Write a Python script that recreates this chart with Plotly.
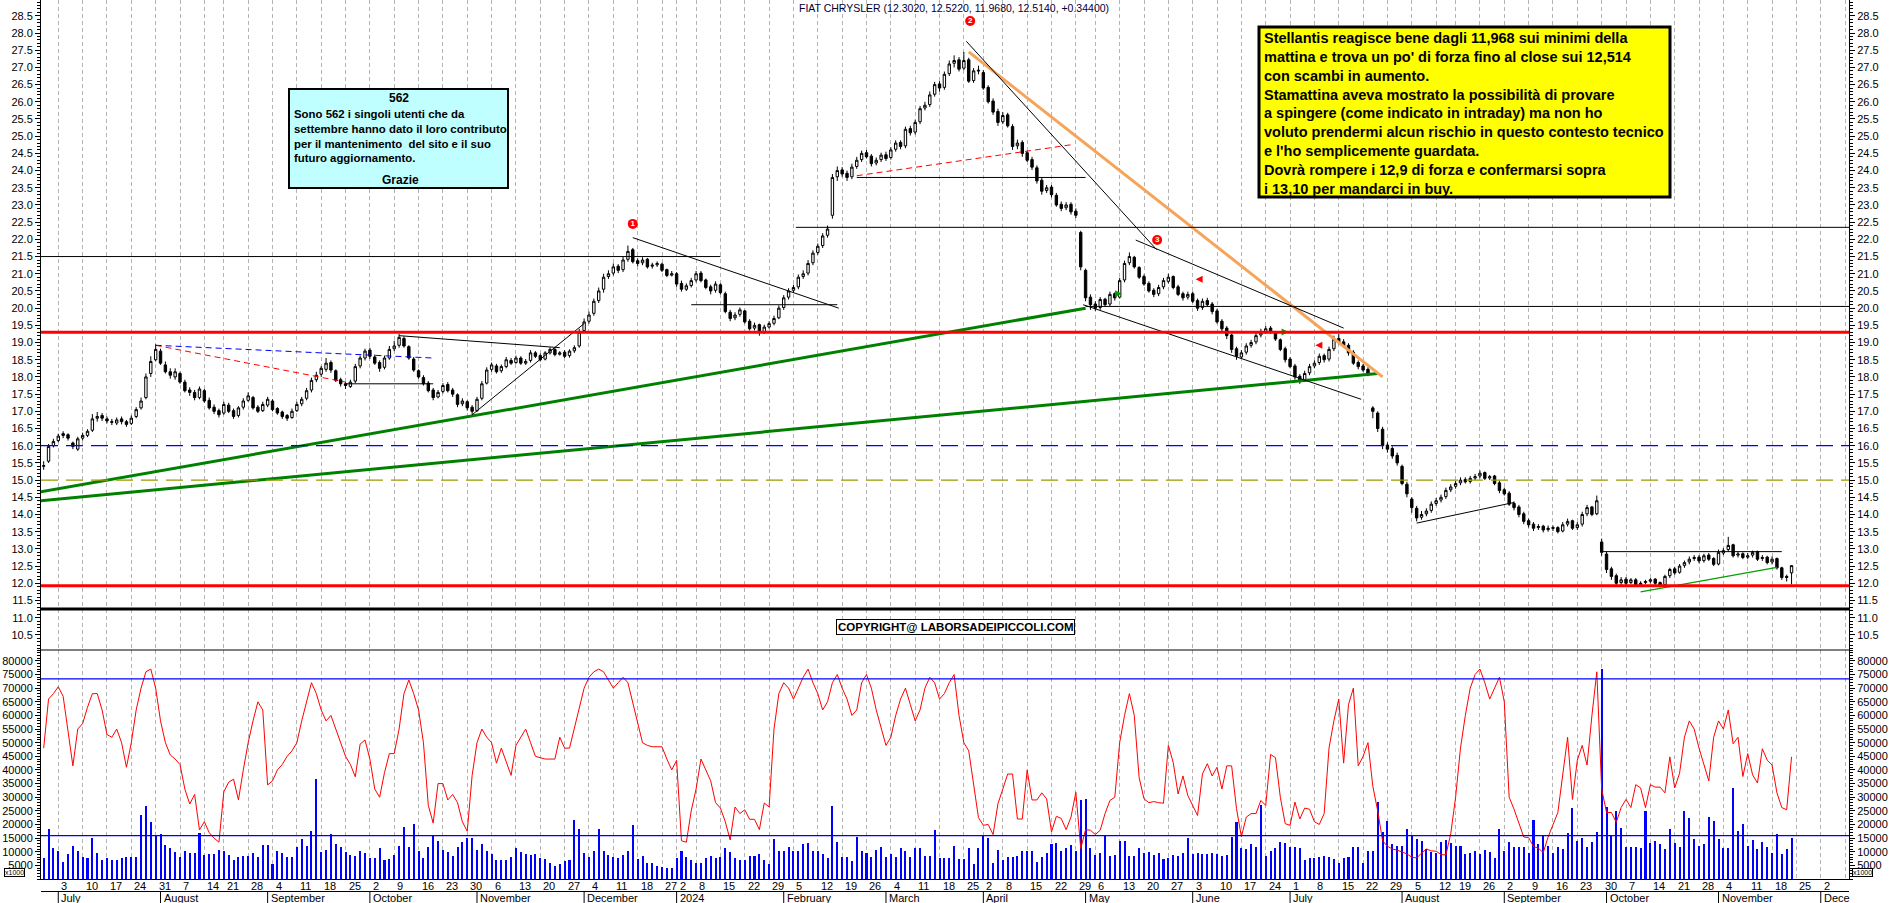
import plotly.graph_objects as go
import pandas as pd

# ---------------- DATA ----------------
HOLIDAYS = ["2023-08-15", "2023-12-25", "2023-12-26", "2024-01-01",
            "2024-03-29", "2024-04-01", "2024-05-01", "2024-08-15",
            "2024-12-24", "2024-12-25", "2024-12-26"]

OPEN = [15.40, 15.55, 16.00,
 16.15, 16.35, 16.32, 16.08, 15.90,  16.22, 16.30, 16.45, 16.80, 16.88,  16.78, 16.70, 16.66, 16.78, 16.70,
 16.65, 16.85, 17.10, 17.40, 18.10,  18.50, 18.75, 18.35, 18.15, 18.00,  18.10, 17.85, 17.62, 17.55, 17.40,
 17.60, 17.32, 17.12, 17.02,  16.95, 17.18, 17.02, 16.88, 17.12,  17.32, 17.40, 17.12, 17.02, 17.18,
 17.30, 17.08, 16.98, 16.88, 16.82,  17.02, 17.22, 17.38, 17.62, 17.92,  18.08, 18.22, 18.42, 18.18, 17.92,
 17.80, 17.72, 17.88, 18.32, 18.55,  18.78, 18.58, 18.42, 18.28, 18.55,  18.82, 18.92, 19.12, 18.88, 18.52,
 18.18, 17.98, 17.82, 17.62, 17.42,  17.58, 17.78, 17.62, 17.48, 17.22,  17.28, 17.12, 17.02, 17.38, 17.82,
 18.22, 18.32, 18.18, 18.30, 18.48,  18.42, 18.55, 18.40, 18.48, 18.70,  18.62, 18.52, 18.70, 18.80, 18.66,
 18.72, 18.62, 18.76, 18.90, 19.35,  19.62, 19.85, 20.22, 20.55, 20.92,  21.02, 21.22, 21.12, 21.42, 21.70,
 21.38, 21.32, 21.42, 21.22, 21.26,  21.28, 21.12, 20.96,  21.00, 20.72, 20.55, 20.66,
 20.82, 21.02, 20.82, 20.62, 20.52,  20.68, 20.42, 19.88, 19.72, 19.82,  19.92, 19.62, 19.42, 19.52, 19.32,
 19.45, 19.56, 19.72, 20.02, 20.32,  20.52, 20.62, 20.92, 21.02, 21.32,  21.62, 21.82, 22.12, 22.70, 23.82,
 24.02, 23.92, 23.82, 24.12, 24.32,  24.52, 24.42, 24.22, 24.32, 24.46,  24.38, 24.62, 24.82, 24.72, 25.22,
 25.12, 25.42, 25.82, 25.92, 26.22,  26.52, 26.42, 26.82, 27.12, 27.22,  26.98, 27.22, 26.62, 26.92,
 26.85, 26.42, 26.02, 25.72,  25.42, 25.62, 25.28, 24.72, 24.82,  24.52, 24.32, 24.08, 23.72, 23.42,
 23.52, 23.28, 23.02, 22.92, 23.02,  22.82, 22.20, 21.10, 20.32,  20.12, 20.02, 20.26, 20.12, 20.42,
 20.32, 20.82, 21.32, 21.48, 21.18,  20.92, 20.72, 20.52, 20.42, 20.62,  20.78, 20.92, 20.62, 20.42, 20.32,
 20.42, 20.22, 20.02, 20.22, 20.12,  19.92, 19.62, 19.42, 19.22, 18.82,  18.58, 18.72, 18.92, 19.02, 19.22,
 19.32, 19.42, 19.28, 19.08, 18.82,  18.52, 18.32, 18.02, 17.92, 18.12,  18.32, 18.42, 18.62, 18.52, 18.82,
 19.12, 19.02, 18.92, 18.72, 18.42,  18.32, 18.22, 17.10, 16.95, 16.48,  16.02, 15.92, 15.72, 15.40, 14.88,
 14.45, 14.18, 13.92, 14.02, 14.12,  14.32, 14.42, 14.52, 14.72,  14.82, 14.92, 15.02, 14.96, 15.06,
 15.12, 15.22, 15.06, 15.12, 14.92,  14.72, 14.62, 14.32, 14.22, 14.02,  13.82, 13.72, 13.62, 13.66, 13.56,
 13.62, 13.62, 13.52, 13.72, 13.82,  13.62, 13.72, 14.02, 14.22, 14.02,  13.20, 12.85, 12.42, 12.22, 12.02,
 12.12, 12.02, 12.10, 11.96, 12.02,  12.06, 12.12, 12.02, 11.96, 12.22,  12.42, 12.32, 12.52, 12.62, 12.72,
 12.76, 12.66, 12.82, 12.72, 12.56,  12.88, 12.98, 13.12, 12.82, 12.86,  12.76, 12.82, 12.92, 12.72, 12.76,
 12.62, 12.72, 12.45, 12.20, 12.302]

HIGH = [15.55, 16.05, 16.20,
 16.35, 16.42, 16.36, 16.12, 16.26,  16.38, 16.48, 16.92, 16.98, 16.95,  16.85, 16.78, 16.82, 16.85, 16.75,
 16.88, 17.12, 17.40, 18.10, 18.60,  18.95, 18.82, 18.45, 18.25, 18.25,  18.15, 17.92, 17.70, 17.62, 17.72,
 17.65, 17.40, 17.20, 17.08,  17.28, 17.25, 17.08, 17.15, 17.38,  17.55, 17.45, 17.18, 17.28, 17.42,
 17.35, 17.12, 17.02, 16.92, 17.08,  17.28, 17.42, 17.68, 17.98, 18.15,  18.32, 18.55, 18.48, 18.22, 17.98,
 17.85, 17.92, 18.38, 18.62, 18.82,  18.85, 18.65, 18.48, 18.62, 18.90,  19.05, 19.25, 19.18, 18.92, 18.58,
 18.22, 18.05, 17.88, 17.68, 17.62,  17.82, 17.85, 17.68, 17.52, 17.38,  17.32, 17.18, 17.42, 17.88, 18.28,
 18.42, 18.38, 18.36, 18.58, 18.55,  18.62, 18.60, 18.52, 18.78, 18.75,  18.68, 18.75, 18.86, 18.84, 18.75,
 18.78, 18.80, 18.92, 19.40, 19.70,  19.90, 20.28, 20.60, 21.00, 21.10,  21.30, 21.28, 21.50, 21.82, 21.75,
 21.45, 21.48, 21.46, 21.32, 21.36,  21.32, 21.15, 21.08,  21.05, 20.80, 20.72, 20.88,
 21.08, 21.08, 20.86, 20.68, 20.78,  20.72, 20.48, 19.95, 19.88, 20.02,  19.95, 19.68, 19.58, 19.55, 19.52,
 19.62, 19.78, 20.08, 20.38, 20.58,  20.68, 20.98, 21.10, 21.40, 21.68,  21.88, 22.18, 22.40, 23.90, 24.12,
 24.10, 24.00, 24.20, 24.40, 24.58,  24.60, 24.48, 24.38, 24.52, 24.55,  24.68, 24.88, 24.88, 25.28, 25.30,
 25.48, 25.88, 26.00, 26.30, 26.58,  26.60, 26.88, 27.20, 27.35, 27.30,  27.45, 27.28, 26.98, 27.05,
 26.92, 26.48, 26.10, 25.80,  25.70, 25.68, 25.35, 24.90, 24.88,  24.58, 24.40, 24.15, 23.80, 23.58,
 23.58, 23.35, 23.10, 23.08, 23.08,  22.90, 22.25, 21.15, 20.40,  20.20, 20.32, 20.30, 20.48, 20.46,
 20.88, 21.38, 21.62, 21.52, 21.22,  20.98, 20.78, 20.58, 20.68, 20.88,  21.00, 20.95, 20.68, 20.48, 20.48,
 20.48, 20.28, 20.28, 20.30, 20.18,  19.98, 19.68, 19.48, 19.25, 18.88,  18.78, 18.98, 19.08, 19.28, 19.40,
 19.48, 19.48, 19.32, 19.12, 18.88,  18.58, 18.38, 18.08, 18.18, 18.38,  18.48, 18.68, 18.68, 18.88, 19.20,
 19.25, 19.10, 18.98, 18.78, 18.48,  18.38, 18.28, 17.15, 17.00, 16.55,  16.10, 15.98, 15.80, 15.45, 14.95,
 14.50, 14.25, 14.10, 14.18, 14.38,  14.48, 14.58, 14.78, 14.88,  14.98, 15.08, 15.08, 15.12, 15.18,
 15.28, 15.25, 15.15, 15.15, 14.98,  14.78, 14.68, 14.38, 14.28, 14.08,  13.88, 13.78, 13.72, 13.70, 13.68,
 13.68, 13.66, 13.78, 13.88, 13.85,  13.78, 14.08, 14.28, 14.25, 14.55,  13.30, 12.92, 12.48, 12.28, 12.18,
 12.18, 12.15, 12.15, 12.06, 12.10,  12.15, 12.15, 12.05, 12.25, 12.45,  12.48, 12.56, 12.66, 12.78, 12.82,
 12.82, 12.86, 12.88, 12.76, 12.98,  13.02, 13.35, 13.15, 12.92, 12.90,  12.88, 12.95, 12.95, 12.82, 12.80,
 12.78, 12.75, 12.48, 12.25, 12.522]

LOW = [15.30, 15.50, 15.95,
 16.10, 16.22, 16.15, 15.90, 15.85,  16.15, 16.25, 16.40, 16.70, 16.72,  16.65, 16.60, 16.60, 16.62, 16.55,
 16.60, 16.80, 17.05, 17.35, 18.00,  18.45, 18.35, 18.10, 17.95, 17.92,  17.80, 17.55, 17.45, 17.32, 17.35,
 17.25, 17.05, 16.92, 16.82,  16.90, 16.95, 16.78, 16.82, 17.05,  17.28, 17.05, 16.95, 16.98, 17.12,
 17.00, 16.90, 16.78, 16.72, 16.78,  16.98, 17.15, 17.32, 17.55, 17.85,  18.00, 18.15, 18.12, 17.85, 17.72,
 17.65, 17.68, 17.82, 18.25, 18.48,  18.52, 18.35, 18.15, 18.22, 18.50,  18.75, 18.85, 18.85, 18.50, 18.15,
 17.95, 17.75, 17.55, 17.32, 17.38,  17.52, 17.55, 17.42, 17.12, 17.15,  17.02, 16.90, 16.98, 17.32, 17.78,
 18.15, 18.10, 18.12, 18.25, 18.35,  18.38, 18.35, 18.35, 18.42, 18.55,  18.45, 18.48, 18.65, 18.60, 18.62,
 18.55, 18.56, 18.70, 18.85, 19.30,  19.55, 19.78, 20.15, 20.45, 20.85,  20.95, 21.02, 21.05, 21.35, 21.30,
 21.22, 21.25, 21.15, 21.15, 21.20,  21.05, 20.90, 20.92,  20.62, 20.48, 20.50, 20.60,
 20.75, 20.75, 20.55, 20.40, 20.45,  20.40, 19.85, 19.62, 19.65, 19.75,  19.55, 19.35, 19.35, 19.20, 19.25,
 19.40, 19.50, 19.68, 19.95, 20.25,  20.45, 20.55, 20.85, 20.95, 21.25,  21.55, 21.75, 22.05, 22.60, 23.70,
 23.82, 23.70, 23.75, 24.05, 24.25,  24.35, 24.12, 24.15, 24.25, 24.28,  24.32, 24.55, 24.62, 24.65, 25.02,
 25.05, 25.35, 25.75, 25.85, 26.15,  26.30, 26.35, 26.75, 27.00, 26.88,  26.92, 26.55, 26.55, 26.80,
 26.35, 25.95, 25.62, 25.30,  25.35, 25.25, 24.60, 24.62, 24.40,  24.25, 24.02, 23.62, 23.30, 23.35,
 23.22, 22.95, 22.82, 22.85, 22.72,  22.62, 21.10, 20.20, 19.95,  19.92, 19.95, 20.05, 20.05, 20.22,
 20.28, 20.75, 21.25, 21.15, 20.85,  20.65, 20.45, 20.32, 20.35, 20.55,  20.72, 20.55, 20.35, 20.22, 20.25,
 20.15, 19.92, 19.95, 20.05, 19.82,  19.55, 19.32, 19.10, 18.70, 18.50,  18.52, 18.65, 18.85, 18.95, 19.15,
 19.25, 19.25, 19.05, 18.75, 18.42,  18.25, 17.92, 17.80, 17.85, 18.05,  18.25, 18.35, 18.42, 18.45, 18.75,
 18.95, 18.85, 18.62, 18.35, 18.22,  18.15, 18.02, 16.80, 16.40, 15.90,  15.80, 15.62, 15.42, 14.85, 14.50,
 14.05, 13.80, 13.85, 13.95, 14.05,  14.25, 14.35, 14.45, 14.65,  14.75, 14.85, 14.90, 14.90, 15.00,
 15.05, 15.00, 15.00, 14.85, 14.62,  14.55, 14.25, 14.12, 13.92, 13.72,  13.62, 13.52, 13.55, 13.48, 13.50,
 13.52, 13.45, 13.48, 13.65, 13.55,  13.55, 13.65, 13.95, 13.95, 13.98,  12.80, 12.30, 12.10, 11.92, 11.95,
 11.95, 11.98, 11.90, 11.90, 11.98,  12.00, 11.95, 11.88, 11.92, 12.15,  12.25, 12.28, 12.45, 12.55, 12.65,
 12.58, 12.60, 12.65, 12.50, 12.52,  12.82, 12.92, 12.75, 12.75, 12.70,  12.70, 12.75, 12.65, 12.65, 12.55,
 12.55, 12.40, 12.10, 12.05, 11.968]

CLOSE = [15.42, 15.98, 16.12,
 16.28, 16.30, 16.22, 15.98, 16.20,  16.30, 16.42, 16.78, 16.85, 16.80,  16.72, 16.68, 16.75, 16.70, 16.62,
 16.80, 17.05, 17.30, 18.00, 18.45,  18.80, 18.40, 18.15, 18.05, 18.15,  17.85, 17.60, 17.55, 17.40, 17.65,
 17.30, 17.10, 17.00, 16.90,  17.20, 17.00, 16.85, 17.10, 17.30,  17.45, 17.10, 17.00, 17.20, 17.35,
 17.05, 16.95, 16.85, 16.80, 17.00,  17.20, 17.35, 17.60, 17.90, 18.05,  18.25, 18.40, 18.20, 17.90, 17.80,
 17.75, 17.85, 18.30, 18.55, 18.75,  18.60, 18.40, 18.25, 18.55, 18.80,  18.90, 19.15, 18.90, 18.55, 18.20,
 18.00, 17.80, 17.60, 17.40, 17.55,  17.75, 17.60, 17.50, 17.20, 17.30,  17.10, 17.00, 17.35, 17.80, 18.20,
 18.35, 18.15, 18.30, 18.50, 18.40,  18.55, 18.40, 18.45, 18.70, 18.60,  18.50, 18.70, 18.80, 18.65, 18.70,
 18.60, 18.75, 18.85, 19.30, 19.60,  19.80, 20.20, 20.50, 20.90, 21.00,  21.20, 21.10, 21.40, 21.65, 21.35,
 21.30, 21.40, 21.20, 21.25, 21.30,  21.10, 20.95, 21.00,  20.70, 20.55, 20.65, 20.80,
 21.00, 20.80, 20.60, 20.50, 20.70,  20.45, 19.90, 19.70, 19.80, 19.95,  19.60, 19.40, 19.50, 19.30, 19.45,
 19.55, 19.70, 20.00, 20.30, 20.50,  20.60, 20.90, 21.00, 21.30, 21.60,  21.80, 22.10, 22.30, 23.80, 24.00,
 23.90, 23.80, 24.10, 24.30, 24.50,  24.40, 24.20, 24.30, 24.45, 24.35,  24.60, 24.80, 24.70, 25.20, 25.10,
 25.40, 25.80, 25.90, 26.20, 26.50,  26.40, 26.80, 27.10, 27.20, 26.95,  27.20, 26.60, 26.90, 26.90,
 26.40, 26.00, 25.70, 25.40,  25.60, 25.30, 24.70, 24.80, 24.50,  24.30, 24.10, 23.70, 23.40, 23.50,
 23.30, 23.00, 22.90, 23.00, 22.80,  22.70, 21.20, 20.30, 20.10,  20.00, 20.25, 20.10, 20.40, 20.30,
 20.80, 21.30, 21.50, 21.20, 20.90,  20.70, 20.50, 20.40, 20.60, 20.80,  20.90, 20.60, 20.40, 20.30, 20.40,
 20.20, 20.00, 20.20, 20.10, 19.90,  19.60, 19.40, 19.20, 18.80, 18.60,  18.70, 18.90, 19.00, 19.20, 19.30,
 19.40, 19.30, 19.10, 18.80, 18.50,  18.30, 18.00, 17.90, 18.10, 18.30,  18.40, 18.60, 18.50, 18.80, 19.10,
 19.00, 18.90, 18.70, 18.40, 18.30,  18.20, 18.10, 17.00, 16.50, 16.00,  15.90, 15.70, 15.50, 14.90, 14.60,
 14.20, 13.90, 14.00, 14.10, 14.30,  14.40, 14.50, 14.70, 14.80,  14.90, 15.00, 14.95, 15.05, 15.10,
 15.20, 15.05, 15.10, 14.90, 14.70,  14.60, 14.30, 14.20, 14.00, 13.80,  13.70, 13.60, 13.65, 13.55, 13.60,
 13.60, 13.50, 13.70, 13.80, 13.60,  13.70, 14.00, 14.20, 14.00, 14.40,  12.90, 12.40, 12.20, 12.00, 12.10,
 12.00, 12.10, 11.95, 12.00, 12.05,  12.10, 12.00, 11.95, 12.20, 12.40,  12.30, 12.50, 12.60, 12.70, 12.75,
 12.65, 12.80, 12.70, 12.55, 12.90,  12.95, 13.10, 12.80, 12.85, 12.75,  12.80, 12.90, 12.70, 12.75, 12.60,
 12.70, 12.45, 12.17, 12.17, 12.514]

# volume, thousands of shares (axis labels are x1000)
VOLUME_K = [7.6, 18.2, 11.4,
 10.4, 6.4, 9.2, 12.2, 10.4,  8.2, 7.6, 15.1, 9.4, 7.0,  7.6, 6.8, 6.8, 7.6, 8.2,
 8.2, 8.0, 23.4, 26.7, 20.8,  16.3, 16.4, 12.5, 11.4, 10.0,  8.2, 10.1, 9.4, 9.4, 16.8,
 8.8, 9.2, 9.0, 10.8,  10.1, 8.9, 7.0, 8.2, 8.4,  8.6, 9.4, 8.2, 12.5, 12.5,
 5.5, 10.1, 9.7, 8.2, 8.2,  11.8, 14.6, 12.2, 17.5, 36.6,  10.0, 10.8, 16.4, 12.8, 11.8,
 9.8, 8.9, 8.6, 10.4, 9.4,  7.8, 7.6, 11.5, 6.8, 7.4,  8.8, 12.2, 19.2, 11.9, 20.2,
 10.1, 7.7, 11.6, 16.0, 13.8,  10.8, 9.8, 8.3, 11.9, 13.6,  15.2, 15.0, 10.8, 12.8, 10.4,
 9.0, 6.8, 6.8, 6.8, 8.2,  11.4, 10.0, 9.2, 8.8, 9.0,  7.8, 7.2, 6.0, 4.8, 5.4,
 6.6, 6.8, 21.8, 18.2, 9.6,  8.0, 10.1, 18.2, 10.1, 8.9,  8.2, 7.7, 8.9, 10.2, 19.9,
 7.2, 8.6, 5.8, 5.8, 4.7,  4.3, 4.1, 4.0,  7.6, 10.4, 8.0, 7.1,
 6.0, 5.8, 7.6, 8.3, 7.6,  8.0, 11.2, 9.8, 7.6, 7.0,  6.8, 8.6, 8.6, 9.0, 7.0,
 5.4, 14.6, 10.1, 10.1, 11.8,  10.1, 10.1, 13.0, 13.2, 10.2,  10.2, 9.0, 7.6, 26.7, 13.7,
 8.0, 8.0, 6.6, 15.4, 10.4,  9.4, 8.2, 10.8, 11.8, 7.9,  9.0, 8.2, 11.3, 10.1, 7.9,
 11.5, 11.5, 8.6, 8.6, 18.0,  7.7, 7.7, 7.7, 12.2, 7.2,  7.4, 11.5, 5.4, 11.4,
 16.0, 14.9, 5.8, 10.8,  7.0, 8.2, 8.2, 8.4, 10.1,  10.1, 10.2, 6.4, 8.0, 9.6,
 12.8, 13.2, 10.1, 11.3, 12.6,  10.1, 28.8, 29.4, 11.4,  8.9, 9.4, 16.0, 8.5, 8.9,
 14.0, 13.8, 8.6, 8.6, 11.5,  9.6, 9.8, 8.9, 9.6, 7.4,  7.8, 8.9, 8.4, 9.6, 15.0,
 9.2, 9.6, 9.2, 9.0, 9.4,  9.0, 8.6, 8.9, 15.4, 21.0,  11.2, 11.0, 12.9, 11.8, 27.2,
 8.6, 10.4, 11.4, 13.7, 13.2,  11.6, 11.6, 11.5, 7.0, 7.8,  7.8, 8.2, 8.6, 8.0, 7.2,
 5.8, 7.7, 8.2, 11.6, 11.8,  5.8, 10.3, 10.3, 28.4, 17.4,  21.4, 12.9, 12.2, 12.0, 18.2,
 15.8, 14.6, 13.8, 11.0, 9.8,  9.4, 13.6, 14.2, 13.2,  12.2, 12.0, 9.0, 9.4, 10.2,
 9.0, 10.6, 9.8, 7.8, 18.2,  10.2, 13.4, 11.6, 11.6, 11.6,  9.6, 21.5, 13.0, 16.0, 12.1,
 9.6, 11.8, 11.0, 16.8, 26.0,  13.8, 15.2, 11.8, 13.7, 17.2,  77.0, 26.5, 16.0, 25.0, 18.6,
 11.8, 11.8, 11.8, 11.3, 25.0,  13.1, 13.9, 12.8, 11.1, 18.2,  13.1, 11.6, 24.8, 22.5, 14.6,
 12.1, 12.8, 22.9, 21.4, 14.8,  11.3, 11.3, 33.2, 17.5, 20.0,  12.0, 14.3, 11.0, 13.4, 11.6,
 9.7, 16.6, 9.0, 11.0, 15.1]

# red oscillator line (same x1000 scale)
RED_K = [48, 66, 68,
 70.5, 67, 55, 41.5, 55,  57, 63, 68, 68, 62,  53, 52, 55, 50, 41,
 50, 62, 70, 76, 77,  70, 58, 50, 45.5, 44,  42, 33, 27.5, 31, 18,
 21, 17, 15, 13.5,  32, 35.5, 36.6, 29, 40,  50, 58, 65, 62, 34.5,
 36, 40, 42, 45, 47,  50, 58, 65, 72, 68,  62, 58, 60, 55, 50,
 45, 42, 37.5, 49.5, 51,  44, 33, 30, 39, 46,  46, 55, 68, 73, 68,
 62, 50, 27, 20.5, 35,  35, 29, 31, 28, 21,  17.5, 38, 50, 55, 52,
 50, 42.5, 48, 43, 38,  49, 52, 55, 50, 45,  44.5, 44, 44, 44, 52,
 48, 48, 55, 62, 70,  74, 76, 77, 76, 73,  70, 72, 74, 72, 65,
 58, 50, 49, 48.5, 48.5,  48.5, 44, 40,  43.5, 14, 13.5, 25,
 33, 44, 40, 36, 28,  26, 21, 14.3, 26.4, 24,  25.4, 21.9, 21.9, 18.1, 27.9,
 26.4, 55, 68, 72, 70,  66, 70, 74, 77, 72,  68, 62, 65, 72, 75,
 70, 66, 60, 62, 72,  75, 70, 62, 55, 49,  52, 60, 66, 70, 64,
 58, 62, 70, 74, 72,  66, 68, 72, 75, 60,  50, 47, 35, 22.5,
 19.7, 20, 16.3, 27.6,  33, 38.5, 38.5, 22, 22,  40, 29, 29, 31.6, 29.4,
 17.3, 23, 22.2, 18.1, 22.7,  31.8, 11.2, 18.1, 17.9,  16.3, 17.9, 24, 28.8, 30,
 50, 60, 68, 60, 37.2,  29.4, 28, 28.4, 28, 27.8,  49, 42.7, 31.2, 37.8, 30.6,
 27, 23.3, 38.5, 42.3, 37.8,  41, 33, 41.5, 41.5, 25.8,  15.5, 22.7, 24, 24, 28.8,
 27, 45.7, 44.5, 30, 20.3,  19.7, 28.2, 22, 26, 25.6,  21, 20, 24, 48, 58,
 66, 42.5, 64, 70, 41.5,  45, 50, 34, 25, 14,  12, 11, 10.6, 10, 9.2,
 8, 7.7, 9.5, 11, 10.3,  10.2, 9.0, 8.8, 16.6,  30, 48, 60, 70, 75,
 77, 72, 66, 70, 74,  65, 30, 25.6, 20.2, 15.4,  15.2, 11.9, 11.3, 9.7, 15.4,
 19.6, 24.4, 38.2, 52, 29.2,  43.6, 49, 41.8, 60, 76,  33, 24.4, 24.4, 20.8, 26.2,
 29.2, 26.2, 34.6, 33.4, 26.2,  34.6, 33.7, 33.7, 31.6, 44.8,  33.4, 38.8, 52, 58, 55,
 48, 41.8, 36, 52, 58,  55, 62, 49.6, 52, 37.6,  46, 38.2, 35.2, 47.8, 43.6,
 41.8, 31.6, 26.2, 25.4, 44.8]

VOL_LEVELS_K = [73.4, 15.9]           # blue horizontal levels in volume panel

# horizontal levels on price (full width)
RED_LEVELS = [19.30, 11.93]
BLACK_THICK_LEVEL = [11.25]
BLUE_DASH_LEVEL = [16.0]
OLIVE_DASH_LEVEL = [15.0]

# trend lines: x in trading-day index, y in price
GREEN_UP_X, GREEN_UP_Y = [-0.6, 214], [14.66, 20.0]
GREEN_LO_X, GREEN_LO_Y = [-0.6, 274], [14.40, 18.10]
ORANGE_X, ORANGE_Y = [190, 275], [27.45, 18.00]
GREEN_THIN_X, GREEN_THIN_Y = [328, 356], [11.75, 12.46]
BLACK_SEGMENTS = [
    ([189.5, 228.6], [27.76, 21.70]),
    ([224.3, 267.0], [21.98, 19.42]),
    ([213.5, 270.6], [20.10, 17.35]),
    ([214.0, 371.0], [20.05, 20.05]),
    ([154.5, 371.0], [22.35, 22.35]),
    ([167.0, 214.0], [23.80, 23.80]),
    ([-0.6, 139.0], [21.50, 21.50]),
    ([121.0, 163.3], [22.05, 20.00]),
    ([88.0, 111.0], [16.90, 19.55]),
    ([73.0, 106.0], [19.20, 18.85]),
    ([62.0, 80.0], [17.80, 17.80]),
    ([133.0, 163.0], [20.10, 20.10]),
    ([282.0, 302.0], [13.75, 14.35]),
    ([320.0, 357.0], [12.92, 12.92]),
]
RED_DASH_SEGMENTS = [([23, 62], [18.92, 17.85]), ([167, 211], [23.85, 24.75])]
BLUE_DASH_SEGMENTS = [([23, 80], [18.92, 18.55])]

NUM_MARK_X = [121, 190.3, 228.7]
NUM_MARK_Y = [22.45, 28.35, 21.98]
NUM_MARK_TXT = ["1", "2", "3"]

ARROW_R_X, ARROW_R_Y = [221.5, 255.7], [20.42, 19.31]     # green arrows
ARROW_L_X, ARROW_L_Y = [236.6, 261.2], [20.84, 18.92]     # red arrows

TITLE = "FIAT CHRYSLER (12.3020, 12.5220, 11.9680, 12.5140, +0.34400)"
BOX1_LINES = ["Sono 562 i singoli utenti che da", "settembre hanno dato il loro contributo",
              "per il mantenimento  del sito e il suo", "futuro aggiornamento."]
BOX2_LINES = ["Stellantis reagisce bene dagli 11,968 sui minimi della",
              "mattina e trova un po' di forza fino al close sui 12,514",
              "con scambi in aumento.",
              "Stamattina aveva mostrato la possibilità di provare",
              "a spingere (come indicato in intraday) ma non ho",
              "voluto prendermi alcun rischio in questo contesto tecnico",
              "e l'ho semplicemente guardata.",
              "Dovrà rompere i 12,9 di forza e confermarsi sopra",
              "i 13,10 per mandarci in buy."]
MONTHS = {1: "2024", 2: "February", 3: "March", 4: "April", 5: "May", 6: "June", 7: "July",
          8: "August", 9: "September", 10: "October", 11: "November", 12: "December"}

# ---------------- LAYOUT GEOMETRY ----------------
W, H = 1890, 903
ML, MR, MT, MB = 41, 41, 0, 24
PW, PH = W - ML - MR, H - MT - MB
def pxx(x): return (x - ML) / PW
def pyy(y): return (MT + PH - y) / PH
SPLIT = pyy(650)
XR = [-0.55, 370.8]
FONT = "Liberation Sans, Arial, sans-serif"

# trading calendar
days = [d for d in pd.bdate_range("2023-06-28", "2024-12-31") if d.strftime("%Y-%m-%d") not in HOLIDAYS]
n = len(CLOSE)
xi = list(range(n))

week_starts, seen = [], set()
for i, d in enumerate(days):
    k = tuple(d.isocalendar()[:2])
    if k not in seen:
        seen.add(k)
        if i > 0 and i <= 370:
            week_starts.append(i)
month_starts, seenm = [], set()
for i, d in enumerate(days):
    k = (d.year, d.month)
    if k not in seenm:
        seenm.add(k)
        if i > 0 and i <= 370:
            month_starts.append(i)

fig = go.Figure()
fig.add_trace(go.Candlestick(
    x=xi, open=OPEN, high=HIGH, low=LOW, close=CLOSE, xaxis="x", yaxis="y",
    increasing=dict(line=dict(color="black", width=1), fillcolor="white"),
    decreasing=dict(line=dict(color="black", width=1), fillcolor="black"),
    whiskerwidth=0, showlegend=False, hoverinfo="skip"))

fig.add_trace(go.Bar(x=xi, y=[v * 1000 for v in VOLUME_K], yaxis="y2", width=0.42,
                     marker=dict(color="#0000FF", line=dict(width=0)), showlegend=False))
fig.add_trace(go.Scatter(x=xi, y=[v * 1000 for v in RED_K], yaxis="y2", mode="lines",
                         line=dict(color="#FF0000", width=1), showlegend=False))

def seg(xs, ys, color, width, dash="solid"):
    fig.add_trace(go.Scatter(x=xs, y=ys, mode="lines", yaxis="y", showlegend=False,
                             line=dict(color=color, width=width, dash=dash), hoverinfo="skip"))

seg(GREEN_UP_X, GREEN_UP_Y, "#008000", 3)
seg(GREEN_LO_X, GREEN_LO_Y, "#008000", 3)
seg(ORANGE_X, ORANGE_Y, "#F5A45A", 3)
seg(GREEN_THIN_X, GREEN_THIN_Y, "#00A000", 1.2)
for xs, ys in BLACK_SEGMENTS:
    seg(xs, ys, "black", 1)
for xs, ys in RED_DASH_SEGMENTS:
    seg(xs, ys, "#FF0000", 1, "6px,4px")
for xs, ys in BLUE_DASH_SEGMENTS:
    seg(xs, ys, "#0000FF", 1, "6px,4px")

fig.add_trace(go.Scatter(x=ARROW_R_X, y=ARROW_R_Y, mode="markers", yaxis="y",
                         marker=dict(symbol="arrow-right", color="#00A000", size=7, line=dict(width=0)),
                         showlegend=False, hoverinfo="skip"))
fig.add_trace(go.Scatter(x=ARROW_L_X, y=ARROW_L_Y, mode="markers", yaxis="y",
                         marker=dict(symbol="arrow-left", color="#FF0000", size=7, line=dict(width=0)),
                         showlegend=False, hoverinfo="skip"))
fig.add_trace(go.Scatter(x=NUM_MARK_X, y=NUM_MARK_Y, mode="markers+text", text=NUM_MARK_TXT,
                         textposition="middle center", yaxis="y",
                         marker=dict(color="#FF0000", size=10, line=dict(width=0)),
                         textfont=dict(color="white", size=8, family=FONT, weight="bold"),
                         showlegend=False, hoverinfo="skip"))

# dummy traces for right axes
fig.add_trace(go.Scatter(x=[None], y=[None], yaxis="y3", showlegend=False))
fig.add_trace(go.Scatter(x=[None], y=[None], yaxis="y4", showlegend=False))

shapes = []
for lv in RED_LEVELS:
    shapes.append(dict(type="line", xref="paper", yref="y", x0=0, x1=1, y0=lv, y1=lv,
                       line=dict(color="#FF0000", width=3)))
for lv in BLACK_THICK_LEVEL:
    shapes.append(dict(type="line", xref="paper", yref="y", x0=0, x1=1, y0=lv, y1=lv,
                       line=dict(color="black", width=3)))
for lv in BLUE_DASH_LEVEL:
    shapes.append(dict(type="line", xref="paper", yref="y", x0=0, x1=1, y0=lv, y1=lv,
                       line=dict(color="#0000FF", width=1.3, dash="17px,8px")))
for lv in OLIVE_DASH_LEVEL:
    shapes.append(dict(type="line", xref="paper", yref="y", x0=0, x1=1, y0=lv, y1=lv,
                       line=dict(color="#999900", width=1.3, dash="17px,8px")))
for lv in VOL_LEVELS_K:
    shapes.append(dict(type="line", xref="paper", yref="y2", x0=0, x1=1, y0=lv * 1000, y1=lv * 1000,
                       line=dict(color="#0000FF", width=1.3)))
# panel separator
shapes.append(dict(type="line", xref="paper", yref="paper", x0=0, x1=1, y0=SPLIT, y1=SPLIT,
                   line=dict(color="black", width=1)))
# date band lines
shapes.append(dict(type="line", xref="paper", yref="paper", x0=0, x1=1, y0=pyy(891.5), y1=pyy(891.5),
                   line=dict(color="black", width=1)))
for m in month_starts:
    shapes.append(dict(type="line", xref="x", yref="paper", x0=m, x1=m, y0=pyy(891.5), y1=pyy(905),
                       line=dict(color="black", width=1)))
# text boxes
shapes.append(dict(type="rect", xref="paper", yref="paper", x0=pxx(289), x1=pxx(508), y0=pyy(188), y1=pyy(89),
                   fillcolor="#C0FFFF", line=dict(color="black", width=2), layer="above"))
shapes.append(dict(type="rect", xref="paper", yref="paper", x0=pxx(1259), x1=pxx(1670), y0=pyy(197), y1=pyy(27),
                   fillcolor="#FFFF00", line=dict(color="black", width=3), layer="above"))

BOXFONT = FONT
ann = []
ann.append(dict(xref="paper", yref="paper", x=pxx(797), y=pyy(8), text=TITLE, showarrow=False,
                xanchor="left", yanchor="middle", font=dict(family=FONT, size=10.5, color="#000033")))
ann.append(dict(xref="paper", yref="paper", x=pxx(399), y=pyy(98), text="<b>562</b>", showarrow=False,
                xanchor="center", yanchor="middle", font=dict(family=BOXFONT, size=12, color="black")))
ann.append(dict(xref="paper", yref="paper", x=pxx(292), y=pyy(106), text="<br>".join("<b>%s</b>" % s for s in BOX1_LINES),
                showarrow=False, xanchor="left", yanchor="top", align="left",
                font=dict(family=BOXFONT, size=11.4, color="black")))
ann.append(dict(xref="paper", yref="paper", x=pxx(400), y=pyy(180), text="<b>Grazie</b>", showarrow=False,
                xanchor="center", yanchor="middle", font=dict(family=BOXFONT, size=12, color="black")))
ann.append(dict(xref="paper", yref="paper", x=pxx(1262), y=pyy(28), text="<br>".join("<b>%s</b>" % s for s in BOX2_LINES),
                showarrow=False, xanchor="left", yanchor="top", align="left",
                font=dict(family=FONT, size=14.5, color="black")))
ann.append(dict(xref="paper", yref="paper", x=pxx(955), y=pyy(627), text="<b>COPYRIGHT@ LABORSADEIPICCOLI.COM</b>",
                showarrow=False, xanchor="center", yanchor="middle", bgcolor="white", bordercolor="black",
                borderwidth=1, borderpad=1, font=dict(family=FONT, size=11.5, color="black")))
for xb in (14, 1862):
    ann.append(dict(xref="paper", yref="paper", x=pxx(xb), y=pyy(872), text="x1000", showarrow=False,
                    xanchor="center", yanchor="middle", bgcolor="white", bordercolor="black", borderwidth=1,
                    borderpad=0, font=dict(family=FONT, size=7, color="black")))
for w in week_starts:
    if w > 367:
        continue
    ann.append(dict(xref="x", yref="paper", x=w, y=pyy(886), text=str(days[w].day), showarrow=False,
                    xanchor="left", yanchor="middle", xshift=1, font=dict(family=FONT, size=11, color="black")))
for m in month_starts:
    d = days[m]
    name = MONTHS[d.month]
    if d.year == 2024 and d.month == 12:
        name = "Dece"
    ann.append(dict(xref="x", yref="paper", x=m, y=pyy(898), text=name, showarrow=False,
                    xanchor="left", yanchor="middle", xshift=1, font=dict(family=FONT, size=11, color="black")))

price_axis = dict(range=[10.06, 28.96], tick0=0, dtick=0.5, tickformat=".1f", ticks="outside", ticklen=5,
                  tickcolor="black", showgrid=False, zeroline=False, showline=True, linecolor="black",
                  tickfont=dict(family=FONT, size=11, color="black"), fixedrange=True,
                  minor=dict(dtick=0.1, ticks="outside", ticklen=3, tickcolor="black", showgrid=False))
vol_vals = list(range(5000, 80001, 5000))
vol_axis = dict(range=[0, 84000], tickvals=vol_vals, ticktext=[str(v) for v in vol_vals], ticks="outside",
                ticklen=5, tickcolor="black", showgrid=False, zeroline=False, showline=True, linecolor="black",
                tickfont=dict(family=FONT, size=11, color="black"), fixedrange=True,
                minor=dict(dtick=1000, ticks="outside", ticklen=3, tickcolor="black", showgrid=False))

fig.update_layout(
    width=W, height=H, margin=dict(l=ML, r=MR, t=MT, b=MB),
    paper_bgcolor="white", plot_bgcolor="white", showlegend=False, bargap=0,
    xaxis=dict(domain=[0, 1], anchor="y2", range=XR, tickvals=week_starts, showticklabels=False, ticks="",
               showgrid=True, gridcolor="#B4B4B4", griddash="4px,3px", gridwidth=1, zeroline=False,
               showline=True, linecolor="black", rangeslider=dict(visible=False), fixedrange=True),
    yaxis=dict(domain=[SPLIT, 1], anchor="x", side="left", **price_axis),
    yaxis2=dict(domain=[0, SPLIT], anchor="x", side="left", **vol_axis),
    yaxis3=dict(overlaying="y", anchor="x", side="right", **price_axis),
    yaxis4=dict(overlaying="y2", anchor="x", side="right", **vol_axis),
    shapes=shapes, annotations=ann,
)
fig.write_html("out.html", config={"displayModeBar": False, "staticPlot": True},
               post_script="document.body.style.margin='0';document.body.style.overflow='hidden';")
